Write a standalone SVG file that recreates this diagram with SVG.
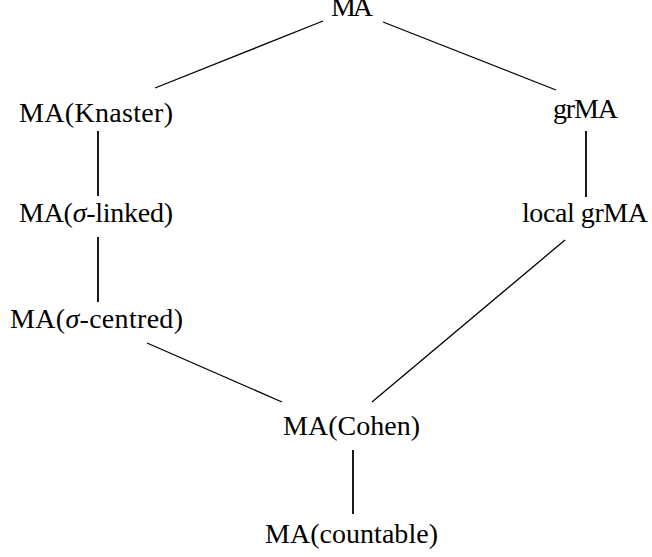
<svg xmlns="http://www.w3.org/2000/svg" width="652" height="557" viewBox="0 0 652 557">
<style>
.t{font-family:"Liberation Serif","DejaVu Serif",serif;font-size:28px;fill:#000;text-anchor:middle}
.e{stroke:#000;stroke-width:1.3;fill:none}
.v{stroke-width:1.8}
.i{font-style:italic}
</style>
<rect width="652" height="557" fill="#fff"/>
<g id="connectors">
<line class="e" x1="323" y1="21" x2="155" y2="88"/>
<line class="e" x1="383" y1="22" x2="556" y2="90"/>
<line class="e v" x1="98" y1="131" x2="98" y2="196"/>
<line class="e v" x1="98" y1="237" x2="98" y2="302"/>
<line class="e v" x1="586" y1="131" x2="586" y2="197"/>
<line class="e" x1="147" y1="343" x2="282" y2="402"/>
<line class="e" x1="565" y1="240" x2="372" y2="402"/>
<line class="e v" x1="353" y1="450" x2="353" y2="514"/>
</g>
<g id="n-MA"><text class="t" x="352" y="16" textLength="42">MA</text></g>
<g id="n-knaster"><text class="t" x="96" y="122" textLength="154">MA(Knaster)</text></g>
<g id="n-linked"><text class="t" x="96" y="222" textLength="154">MA(<tspan class="i">σ</tspan>-linked)</text></g>
<g id="n-centred"><text class="t" x="96.5" y="328" textLength="173">MA(<tspan class="i">σ</tspan>-centred)</text></g>
<g id="n-grMA"><text class="t" x="585.5" y="118" textLength="65">grMA</text></g>
<g id="n-localgrMA"><text class="t" x="585" y="222" textLength="126">local grMA</text></g>
<g id="n-cohen"><text class="t" x="351.5" y="435" textLength="137">MA(Cohen)</text></g>
<g id="n-countable"><text class="t" x="351.5" y="543" textLength="173">MA(countable)</text></g>
</svg>
